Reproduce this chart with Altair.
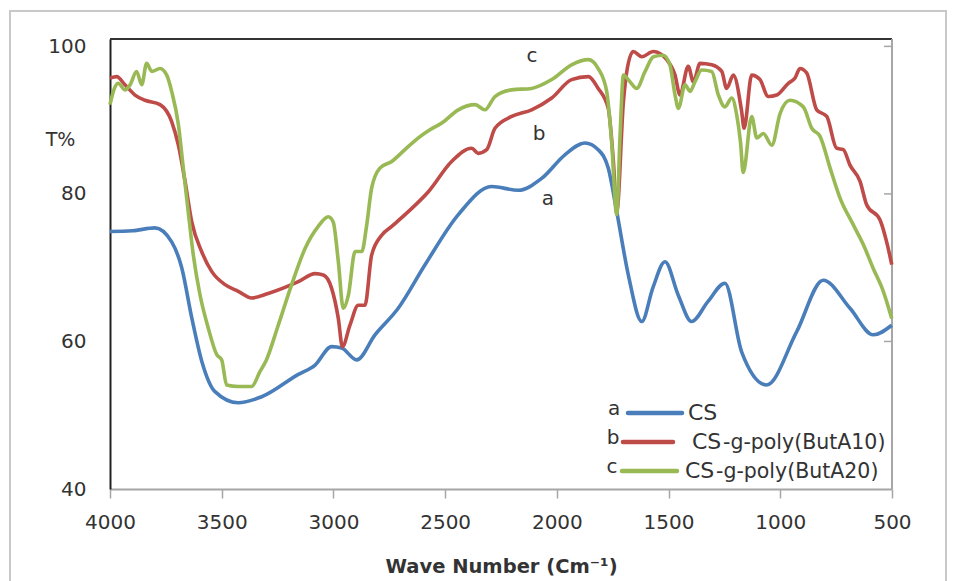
import altair as alt
import pandas as pd

# FTIR spectra: wavenumber (cm-1) and transmittance (%)
wn_cs = [4000, 3900, 3799, 3724, 3679, 3634, 3589, 3530, 3427, 3321, 3159, 3082, 3008,
         2963, 2896, 2814, 2710, 2590, 2441, 2292, 2173, 2068, 1964, 1874, 1815, 1770,
         1732, 1680, 1620, 1570, 1516, 1457, 1397, 1324, 1248, 1173, 1061, 927, 808,
         688, 584, 501]
t_cs = [74.9, 75.0, 75.4, 73.5, 70.0, 63.2, 57.3, 53.2, 51.7, 52.5, 55.5, 56.8, 59.3,
        59.1, 57.5, 60.9, 64.5, 70.4, 77.2, 81.0, 80.5, 82.1, 85.3, 86.9, 86.0, 83.5,
        77.6, 69.0, 62.7, 67.3, 70.8, 66.3, 62.7, 65.4, 67.9, 58.6, 54.1, 61.3, 68.3,
        64.5, 60.9, 62.2]

wn_a10 = [4000, 3970, 3933, 3888, 3843, 3776, 3724, 3694, 3664, 3634, 3590, 3545, 3485,
          3426, 3366, 3292, 3157, 3082, 3045, 3008, 2978, 2960, 2926, 2889, 2859, 2829,
          2784, 2739, 2665, 2575, 2471, 2381, 2352, 2314, 2277, 2202, 2113, 2023, 1934,
          1859, 1815, 1770, 1747, 1732, 1702, 1687, 1658, 1620, 1568, 1508, 1471, 1449,
          1412, 1389, 1359, 1307, 1262, 1240, 1210, 1173, 1162, 1128, 1091, 1054, 1016,
          964, 934, 912, 882, 837, 792, 748, 718, 688, 643, 613, 554, 524, 501]
t_a10 = [95.7, 95.9, 94.8, 93.4, 92.7, 92.1, 89.8, 86.6, 81.7, 76.2, 72.2, 69.5, 67.7,
         66.8, 65.9, 66.5, 68.1, 69.2, 69.0, 67.2, 63.1, 59.3, 62.2, 64.9, 64.9, 71.7,
         74.4, 75.6, 77.6, 80.3, 84.4, 86.2, 85.5, 86.0, 88.9, 90.5, 91.4, 93.0, 95.5,
         95.9, 94.3, 91.6, 84.4, 77.6, 92.5, 96.6, 99.3, 98.6, 99.3, 98.2, 96.1, 93.4,
         97.3, 95.2, 97.7, 97.5, 96.6, 94.3, 96.1, 91.2, 88.9, 96.1, 95.5, 93.2, 93.4,
         95.0, 95.7, 97.0, 96.4, 91.4, 90.5, 86.2, 86.0, 83.9, 81.7, 78.5, 76.5, 73.5, 70.4]

wn_a20 = [4000, 3985, 3963, 3933, 3910, 3881, 3858, 3836, 3813, 3776, 3746, 3724, 3694,
          3672, 3650, 3627, 3597, 3560, 3522, 3500, 3478, 3426, 3366, 3329, 3300, 3247,
          3187, 3127, 3068, 3023, 3001, 2978, 2956, 2933, 2903, 2873, 2851, 2829, 2792,
          2739, 2680, 2620, 2568, 2515, 2441, 2366, 2322, 2277, 2202, 2113, 2023, 1934,
          1859, 1815, 1777, 1755, 1732, 1717, 1702, 1673, 1643, 1605, 1568, 1524, 1494,
          1471, 1456, 1426, 1404, 1382, 1352, 1307, 1277, 1248, 1217, 1195, 1178, 1166,
          1128, 1105, 1076, 1038, 1001, 957, 897, 859, 822, 777, 732, 673, 628, 584, 539, 501]
t_a20 = [92.1, 93.9, 95.0, 94.1, 94.8, 96.6, 94.8, 97.7, 96.6, 97.0, 96.1, 93.9, 89.4,
         83.5, 77.6, 71.7, 66.3, 61.8, 58.2, 57.5, 54.1, 53.9, 53.9, 55.9, 57.5, 62.2,
         67.7, 72.6, 75.6, 76.9, 76.2, 70.8, 64.5, 66.3, 72.2, 72.2, 75.8, 80.8, 83.5,
         84.4, 86.0, 87.6, 88.7, 89.6, 91.4, 92.1, 91.4, 93.2, 94.1, 94.3, 95.5, 97.5,
         98.2, 97.0, 93.9, 87.1, 77.2, 88.0, 96.1, 95.2, 94.3, 96.6, 98.6, 98.8, 97.5,
         93.4, 91.6, 94.8, 93.9, 95.2, 96.8, 96.6, 93.4, 91.8, 93.0, 90.7, 87.0, 82.9,
         90.5, 87.6, 88.2, 86.6, 90.9, 92.7, 91.8, 88.9, 87.8, 83.5, 79.4, 75.8, 73.1,
         69.9, 66.8, 63.1]

series_names = ["CS", "CS-g-poly(ButA10)", "CS-g-poly(ButA20)"]
series_letters = ["a", "b", "c"]
series_colors = ["#4A7EBB", "#BE4B48", "#98B954"]

x_ticks = [4000, 3500, 3000, 2500, 2000, 1500, 1000, 500]
y_ticks = [40, 60, 80, 100]
right_ticks = [60, 80, 100]

# curve letters written beside the spectra
letter_text = ["c", "b", "a"]
letter_wn = [2111, 2080, 2040]
letter_t = [98.7, 88.1, 79.3]

W, H = 782, 450
FONT = "DejaVu Sans"
TEXT = "#333333"

frames = []
for name, wn, t in zip(series_names, [wn_cs, wn_a10, wn_a20], [t_cs, t_a10, t_a20]):
    frames.append(pd.DataFrame({"wn": wn, "T": t, "sample": name}))
spectra = pd.concat(frames, ignore_index=True)

x_scale = alt.Scale(domain=[4000, 500], nice=False, zero=False)
y_scale = alt.Scale(domain=[40, 101], nice=False, zero=False)

x_axis = alt.Axis(values=x_ticks, title="Wave Number (Cm\u207b\u00b9)", format="d",
                  grid=False, domainColor="#A6A6A6", domainWidth=2,
                  tickColor="#A6A6A6", tickWidth=1.5, tickSize=9,
                  labelFont=FONT, labelFontSize=20, labelColor=TEXT, labelPadding=14,
                  labelFlush=False, labelOverlap=False,
                  titleFont=FONT, titleFontSize=19.5, titleFontWeight="bold",
                  titleColor=TEXT, titleY=77, titleBaseline="middle")
y_axis = alt.Axis(values=y_ticks, title="T%", grid=False, ticks=False, tickSize=0,
                  domainColor="#222222", domainWidth=2,
                  labelFont=FONT, labelFontSize=20, labelColor=TEXT, labelPadding=24,
                  labelFlush=False, labelOverlap=False,
                  titleFont=FONT, titleFontSize=19, titleFontWeight="normal",
                  titleColor=TEXT, titleAngle=0, titleX=-50, titleY=100,
                  titleAlign="center", titleBaseline="middle")

lines = alt.Chart(spectra).mark_line(strokeWidth=3.6, interpolate="monotone").encode(
    x=alt.X("wn:Q", scale=x_scale, axis=x_axis),
    y=alt.Y("T:Q", scale=y_scale, axis=y_axis),
    color=alt.Color("sample:N",
                    scale=alt.Scale(domain=series_names, range=series_colors),
                    sort=series_names, legend=None),
    detail="sample:N",
)

letters = alt.Chart(pd.DataFrame({"wn": letter_wn, "T": letter_t, "txt": letter_text})).mark_text(
    font=FONT, fontSize=20, color=TEXT, align="center", baseline="middle"
).encode(x=alt.X("wn:Q", scale=x_scale), y=alt.Y("T:Q", scale=y_scale), text="txt:N")

one = pd.DataFrame({"k": [0]})

# frame pieces: dark top edge, grey right edge with inward ticks, outer grey border
top_edge = alt.Chart(one).mark_rule(color="#333333", strokeWidth=2).encode(
    x=alt.value(0), x2=alt.value(W), y=alt.value(0))
right_edge = alt.Chart(one).mark_rule(color="#A6A6A6", strokeWidth=2).encode(
    x=alt.value(W), y=alt.value(0), y2=alt.value(H))
right_tick_marks = alt.Chart(pd.DataFrame({"v": right_ticks})).mark_rule(
    color="#A6A6A6", strokeWidth=1.5).encode(
    x=alt.value(W - 8), x2=alt.value(W), y=alt.Y("v:Q", scale=y_scale))
outer = alt.Chart(one).mark_rect(fill="transparent", stroke="#C8C8C8", strokeWidth=2).encode(
    x=alt.value(-100), x2=alt.value(836), y=alt.value(-28), y2=alt.value(570))

# legend rows: letter, coloured line sample, "CS" and the rest of the name
legend_layers = []
row_y = [374, 403, 432]
letter_x = [504, 503, 502]
line_x = [(518, 572), (513, 563), (512, 567)]
label_x = [578, 582, 575]
for i, name in enumerate(series_names):
    row = pd.DataFrame({"letter": [series_letters[i]], "head": ["CS"],
                        "tail": [name[2:]]})
    legend_layers.append(alt.Chart(row).mark_text(
        font=FONT, fontSize=20, color=TEXT, align="center", baseline="middle").encode(
        x=alt.value(letter_x[i]), y=alt.value(row_y[i] - 4), text="letter:N"))
    legend_layers.append(alt.Chart(row).mark_rule(
        color=series_colors[i], strokeWidth=4.5, strokeCap="round").encode(
        x=alt.value(line_x[i][0]), x2=alt.value(line_x[i][1]), y=alt.value(row_y[i])))
    legend_layers.append(alt.Chart(row).mark_text(
        font=FONT, fontSize=22, color=TEXT, align="left", baseline="middle").encode(
        x=alt.value(label_x[i]), y=alt.value(row_y[i]), text="head:N"))
    if name[2:]:
        legend_layers.append(alt.Chart(row).mark_text(
            font=FONT, fontSize=20.5, color=TEXT, align="left", baseline="middle").encode(
            x=alt.value(label_x[i] + 31), y=alt.value(row_y[i] + 1), text="tail:N"))

chart = alt.layer(outer, top_edge, right_edge, right_tick_marks, lines, letters,
                  *legend_layers).properties(
    width=W, height=H,
    padding={"left": 110, "top": 39, "right": 64, "bottom": 92},
    autosize=alt.AutoSizeParams(type="none"),
    background="white",
).configure_view(stroke=None)

chart.save("out.html", embed_options={"renderer": "svg", "actions": False})
